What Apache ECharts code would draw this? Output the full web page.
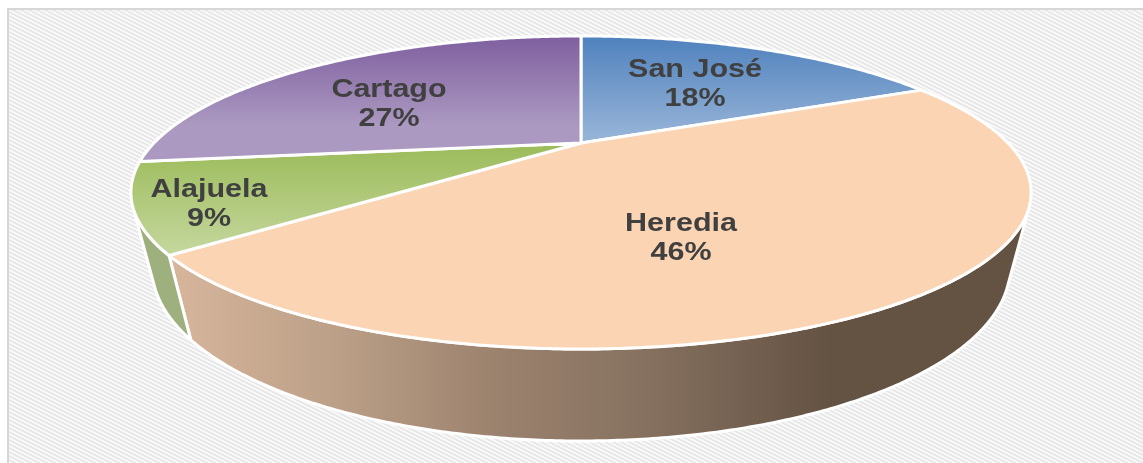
<!DOCTYPE html>
<html>
<head>
<meta charset="utf-8">
<style>html,body{margin:0;padding:0;background:#fff}#c{width:1143px;height:463px}</style>
<script src="https://cdn.jsdelivr.net/npm/echarts@6/dist/echarts.min.js"></script>
</head>
<body>
<div id="c"></div>
<script>
// --- data ---
const categories = ['San José', 'Heredia', 'Alajuela', 'Cartago'];
const shares = [18, 46, 9, 27];

// --- perspective disc layout ---
const CX = 581, CY = 143, A = 427, B = 140.9, K = 0.316, DEPTH = 0.0445, VY = 1855;
const labelCenters = [[695, 85], [681, 239], [209, 205], [389, 105]];
const total = shares.reduce((s, v) => s + v, 0);
const startAngles = [];
shares.reduce((acc, v, i) => { startAngles[i] = acc; return acc + v / total * 360; }, 0);

function topPt(deg) {
  const t = deg * Math.PI / 180, X = Math.sin(t), Y = -Math.cos(t), w = 1 - K * Y;
  return [CX + A * X / w, CY + B * Y / w];
}
function botPt(deg) {
  const t = deg * Math.PI / 180, X = Math.sin(t), Y = -Math.cos(t), w = 1 - K * Y, w2 = w + DEPTH;
  return [CX + A * X / w2, (CY * w + B * Y + DEPTH * VY) / w2];
}
function silhouette() {
  let r = 90, l = 270, br = -1e9, bl = 1e9;
  for (let d = 0; d <= 360; d += 0.25) {
    const p = topPt(d), q = (p[0] - CX) / (VY - p[1]);
    if (q > br) { br = q; r = d; }
    if (q < bl) { bl = q; l = d; }
  }
  return [r, l];
}
const [silR, silL] = silhouette();
function arc(fn, a, b) {
  const pts = [], n = Math.max(2, Math.ceil(Math.abs(b - a) * 2));
  for (let i = 0; i <= n; i++) pts.push(fn(a + (b - a) * i / n));
  return pts;
}
const grad = (x, y, x2, y2, stops) => new echarts.graphic.LinearGradient(x, y, x2, y2,
  stops.map((c, i) => ({ offset: Array.isArray(c) ? c[0] : i / (stops.length - 1), color: Array.isArray(c) ? c[1] : c })), true);

const topFills = [
  grad(0, 36, 0, 135, ['#4f81bd', '#95b3d7']),
  '#fbd4b4',
  grad(0, 143, 0, 250, ['#9bbb59', '#c3d69b']),
  grad(0, 36, 0, 125, ['#7f5f9f', '#ab99c1'])
];
const wallFills = [
  '#4f6d8f',
  grad(175, 0, 830, 0, [[0, '#d6b59b'], [0.25, '#bb9f87'], [0.5, '#9a816d'], [0.72, '#867160'], [1, '#645242']]),
  '#9fb07f',
  '#6f5a80'
];

// stripe tile
function stripeTile() {
  const c = document.createElement('canvas'); c.width = 8; c.height = 4;
  const g = c.getContext('2d');
  for (let y = 0; y < 4; y++) for (let x = 0; x < 8; x++) {
    const v = ((x - 2 * y) % 8 + 8) % 8;
    g.fillStyle = v < 4 ? '#e8e8e8' : '#f8f8f8';
    g.fillRect(x, y, 1, 1);
  }
  return c;
}

const sliceData = shares.map((v, i) => ({ name: categories[i], value: [v, i] }));
const chart = echarts.init(document.getElementById('c'), null, { renderer: 'canvas' });
chart.setOption({
  animation: false,
  backgroundColor: '#ffffff',
  graphic: [
    { type: 'rect', z: 0, shape: { x: 9, y: 10, width: 1134, height: 453 },
      style: { fill: { image: stripeTile(), repeat: 'repeat' } } },
    { type: 'rect', z: 1, shape: { x: 7, y: 8, width: 2, height: 455 }, style: { fill: '#d6d6d6' } },
    { type: 'rect', z: 1, shape: { x: 7, y: 8, width: 1136, height: 2 }, style: { fill: '#d6d6d6' } }
  ],
  series: [
    { // side walls
      type: 'custom', coordinateSystem: 'none', z: 2, data: sliceData, silent: true,
      renderItem(params, api) {
        const i = api.value(1), a = startAngles[i], b = a + api.value(0) / total * 360;
        const s = Math.max(a, silR), e = Math.min(b, silL);
        if (e <= s) return null;
        return {
          type: 'polygon',
          shape: { points: arc(topPt, s, e).concat(arc(botPt, e, s)) },
          style: { fill: wallFills[i], stroke: '#ffffff', lineWidth: 3, lineJoin: 'round' }
        };
      }
    },
    { // top faces
      type: 'custom', coordinateSystem: 'none', z: 3, data: sliceData, silent: true,
      renderItem(params, api) {
        const i = api.value(1), a = startAngles[i], b = a + api.value(0) / total * 360;
        return {
          type: 'polygon',
          shape: { points: [[CX, CY]].concat(arc(topPt, a, b)) },
          style: { fill: topFills[i], stroke: '#ffffff', lineWidth: 3, lineJoin: 'round' }
        };
      }
    },
    { // labels
      type: 'custom', coordinateSystem: 'none', z: 4, data: sliceData, silent: true,
      renderItem(params, api) {
        const i = api.value(1), c = labelCenters[i];
        return {
          type: 'text', x: c[0], y: c[1], scaleX: 1.22,
          style: {
            text: categories[i] + '\n' + api.value(0) + '%',
            font: 'bold 25px "Liberation Sans", Arial, sans-serif',
            lineHeight: 29, fill: '#404040', align: 'center', verticalAlign: 'middle'
          }
        };
      }
    }
  ]
});
</script>
</body>
</html>
